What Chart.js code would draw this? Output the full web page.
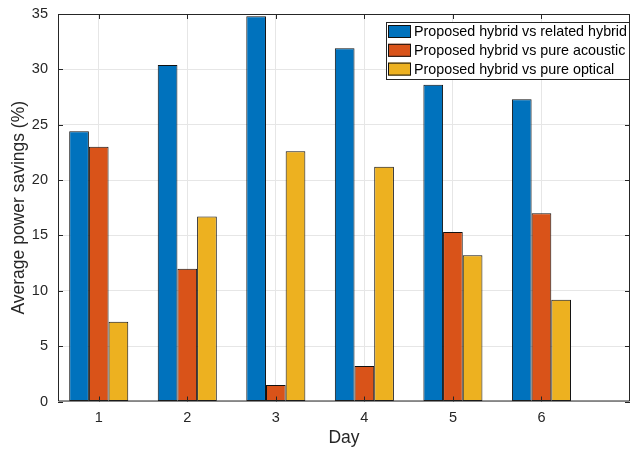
<!DOCTYPE html>
<html>
<head>
<meta charset="utf-8">
<script src="https://cdn.jsdelivr.net/npm/chart.js@4.4.1/dist/chart.umd.min.js"></script>
<style>
  body { margin: 0; background: #fff; }
  #wrap { width: 634px; height: 449px; }
</style>
</head>
<body>
<div id="wrap"><canvas id="myChart" width="634" height="449"></canvas></div>
<script>
'use strict'
// data ___________________________________________________________________
let days = [1, 2, 3, 4, 5, 6];
let seriesNames = ['Proposed hybrid vs related hybrid', 'Proposed hybrid vs pure acoustic', 'Proposed hybrid vs pure optical'];
let relatedHybrid = [24.4, 30.4, 34.8, 31.9, 28.6, 27.3];
let pureAcoustic = [23.0, 12.0, 1.5, 3.2, 15.3, 17.0];
let pureOptical = [7.2, 16.7, 22.6, 21.2, 13.2, 9.2];
let yTicks = [0, 5, 10, 15, 20, 25, 30, 35];
let colors = ['#0072BD', '#D95319', '#EDB120'];
//_________________________________________________________________________==<

let axisColor = '#262626';
let fontFam = '"Liberation Sans", Arial, Helvetica, sans-serif';

function toPoints(vals) {
    return vals.map(function (v, i) { return { x: days[i], y: v }; });
}

let allSeries = [relatedHybrid, pureAcoustic, pureOptical];
let datasets = [];
for (let i = 0; i < allSeries.length; i++) {
    datasets.push({
        label: seriesNames[i],
        data: toPoints(allSeries[i]),
        backgroundColor: colors[i],
        borderColor: '#111',
        borderWidth: 1,
        borderSkipped: false,
        categoryPercentage: 0.667,
        barPercentage: 1
    });
}

// box, inner ticks and legend drawn on top
let boxPlugin = {
    id: 'boxPlugin',
    afterDraw: function (chart) {
        let ctx = chart.ctx;
        let a = chart.chartArea;
        let xs = chart.scales.x;
        let ys = chart.scales.y;
        ctx.save();
        ctx.strokeStyle = axisColor;
        ctx.lineWidth = 1;
        ctx.beginPath();
        ctx.rect(a.left + 0.5, a.top + 0.5, a.right - a.left - 1, a.bottom - a.top - 1);
        ctx.stroke();
        ctx.beginPath();
        for (let i = 0; i < days.length; i++) {
            let px = Math.round(xs.getPixelForValue(days[i])) + 0.5;
            ctx.moveTo(px, a.bottom); ctx.lineTo(px, a.bottom - 5);
            ctx.moveTo(px, a.top); ctx.lineTo(px, a.top + 5);
        }
        for (let i = 0; i < yTicks.length; i++) {
            let py = Math.round(ys.getPixelForValue(yTicks[i])) + 0.5;
            ctx.moveTo(a.left, py); ctx.lineTo(a.left + 5, py);
            ctx.moveTo(a.right, py); ctx.lineTo(a.right - 5, py);
        }
        ctx.stroke();

        // legend
        let lx = 386, ly = 22, lw = 243, lh = 57;
        ctx.fillStyle = '#fff';
        ctx.fillRect(lx, ly, lw, lh);
        ctx.strokeRect(lx + 0.5, ly + 0.5, lw, lh);
        ctx.font = '14.3px ' + fontFam;
        ctx.textBaseline = 'middle';
        for (let i = 0; i < chart.data.datasets.length; i++) {
            let ds = chart.data.datasets[i];
            let cy = ly + 9.5 + i * 18.8;
            ctx.fillStyle = ds.backgroundColor;
            ctx.fillRect(lx + 2, cy - 6.5, 23, 13);
            ctx.strokeStyle = '#111';
            ctx.strokeRect(lx + 2.5, cy - 6, 22, 12);
            ctx.fillStyle = '#000';
            ctx.fillText(ds.label, lx + 28, cy + 0.5);
        }
        ctx.restore();
    }
};

let ctx = document.getElementById('myChart').getContext('2d');
let myChart = new Chart(ctx, {
    type: 'bar',
    data: { datasets: datasets },
    options: {
        responsive: false,
        devicePixelRatio: 1,
        animation: false,
        layout: { padding: { top: 14, right: 4, left: 0, bottom: 0 } },
        plugins: { legend: { display: false }, tooltip: { enabled: false } },
        scales: {
            x: {
                type: 'linear',
                min: 0.54,
                max: 7,
                offset: false,
                afterBuildTicks: function (scale) {
                    scale.ticks = days.map(function (d) { return { value: d }; });
                },
                afterFit: function (scale) {
                    scale.height = 47.5;
                    scale.paddingLeft = 0;
                    scale.paddingRight = 0;
                },
                grid: { color: '#e6e6e6', drawTicks: false, offset: false },
                border: { display: false },
                ticks: { color: axisColor, font: { family: fontFam, size: 14.5 }, padding: 8, maxRotation: 0 },
                title: { display: true, text: 'Day', color: axisColor, font: { family: fontFam, size: 17.5 }, padding: { top: 0, bottom: 0 } }
            },
            y: {
                min: 0,
                max: 35,
                afterBuildTicks: function (scale) {
                    scale.ticks = yTicks.map(function (v) { return { value: v }; });
                },
                afterFit: function (scale) {
                    scale.width = 58;
                    scale.paddingTop = 0;
                    scale.paddingBottom = 0;
                },
                grid: { color: '#e6e6e6', drawTicks: false },
                border: { display: false },
                ticks: { color: axisColor, font: { family: fontFam, size: 14.5 }, padding: 10 },
                title: { display: true, text: 'Average power savings (%)', color: axisColor, font: { family: fontFam, size: 17.5 }, padding: { top: 8.5, bottom: 0 } }
            }
        }
    },
    plugins: [boxPlugin]
});
</script>
</body>
</html>
